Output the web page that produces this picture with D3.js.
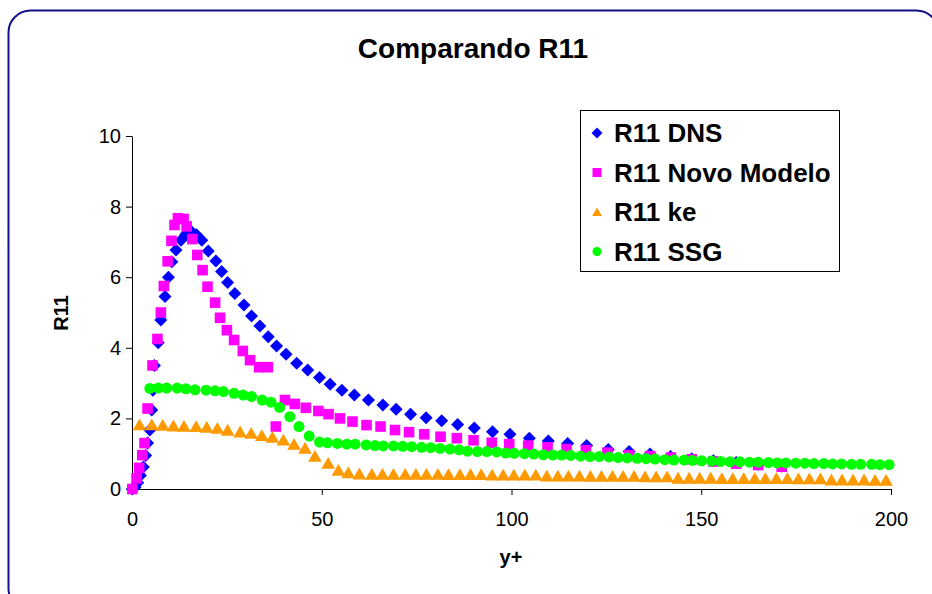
<!DOCTYPE html>
<html>
<head>
<meta charset="utf-8">
<script src="https://cdn.jsdelivr.net/npm/d3@7"></script>
<style>
  html, body { margin: 0; padding: 0; background: #fff; }
  svg { display: block; }
  text { font-family: "Liberation Sans", Arial, sans-serif; }
</style>
</head>
<body>
<svg id="chart" width="932" height="594"></svg>
<script>
// R11 profiles against y+
const seriesNames = ["R11 DNS", "R11 Novo Modelo", "R11 ke", "R11 SSG"];

const yPlusDNS = [0.1, 0.8, 1.5, 2.2, 3.0, 3.6, 4.1, 4.7, 5.2, 5.5, 5.9, 6.9, 7.6, 8.7, 9.6, 10.5, 11.6, 12.9, 14.2, 15.7,
  17.0, 18.4, 20.1, 22.1, 23.6, 25.2, 27.1, 29.5, 31.5, 33.7, 35.9, 38.1, 40.6, 43.4, 46.3, 49.4, 52.2, 55.3, 58.6, 62.3,
  66.1, 69.6, 73.4, 77.5, 81.6, 85.8, 90.2, 95.0, 99.6, 104.7, 109.7, 114.8, 119.8, 125.5, 131.0, 136.5, 141.9, 147.5, 153.2, 159.2,
  165.0, 171.2];
const r11DNS = [0.00, 0.05, 0.18, 0.38, 0.62, 0.95, 1.30, 1.67, 2.24, 2.80, 3.50, 4.14, 4.79, 5.45, 6.00, 6.44, 6.77, 7.05, 7.22, 7.29,
  7.20, 7.05, 6.74, 6.46, 6.16, 5.85, 5.54, 5.21, 4.90, 4.62, 4.31, 4.05, 3.82, 3.56, 3.37, 3.16, 2.97, 2.80, 2.66, 2.52,
  2.38, 2.26, 2.12, 2.02, 1.93, 1.83, 1.73, 1.62, 1.55, 1.44, 1.36, 1.29, 1.23, 1.12, 1.06, 0.99, 0.92, 0.86, 0.80, 0.75,
  0.70, 0.65];

const yPlusNovo = [0.1, 1.2, 1.9, 2.7, 3.3, 4.1, 5.4, 6.7, 7.6, 8.4, 9.4, 10.4, 11.2, 12.1, 13.6, 14.4, 15.9, 17.2, 18.6, 19.9,
  21.9, 23.2, 25.0, 26.9, 29.2, 31.1, 33.5, 35.8, 37.9, 40.3, 42.9, 45.8, 49.1, 51.8, 54.8, 58.1, 61.8, 65.5, 69.3, 73.0,
  77.0, 81.3, 85.6, 90.0, 94.8, 99.4, 104.4, 109.5, 114.5, 119.6, 125.3, 131.0, 136.5, 142.0, 147.5, 153.2, 159.2, 165.0, 171.2];
const r11Novo = [0.00, 0.30, 0.60, 0.96, 1.30, 2.28, 3.50, 4.25, 5.00, 5.75, 6.45, 7.03, 7.48, 7.67, 7.65, 7.44, 7.08, 6.63, 6.20, 5.73,
  5.28, 4.85, 4.50, 4.22, 3.91, 3.65, 3.45, 3.45, 1.77, 2.52, 2.41, 2.30, 2.21, 2.12, 2.00, 1.91, 1.81, 1.77, 1.67, 1.61,
  1.55, 1.48, 1.44, 1.38, 1.31, 1.27, 1.23, 1.18, 1.13, 1.10, 1.03, 0.96, 0.93, 0.89, 0.84, 0.78, 0.72, 0.68, 0.63];

const yPlusKe = [2.0, 5.2, 8.1, 10.9, 13.7, 16.9, 19.7, 22.5, 25.2, 28.5, 31.4, 34.2, 37.0, 39.9, 42.7, 45.6, 48.2, 51.7, 54.4, 57.0,
  59.9, 63.2, 66.0, 68.9, 72.0, 74.8, 77.6, 80.6, 83.4, 86.4, 89.2, 92.0, 94.9, 97.8, 100.6, 103.5, 106.4, 109.3, 112.2, 115.0,
  117.9, 120.8, 123.7, 126.6, 129.4, 132.3, 135.2, 138.1, 141.0, 143.9, 146.8, 149.6, 152.5, 155.4, 158.3, 161.2, 164.1, 166.9, 169.8, 172.7,
  175.6, 178.5, 181.4, 184.3, 187.1, 190.0, 192.9, 195.8, 198.7];
const r11Ke = [1.82, 1.82, 1.81, 1.79, 1.78, 1.77, 1.75, 1.72, 1.67, 1.62, 1.58, 1.52, 1.47, 1.39, 1.27, 1.16, 0.93, 0.73, 0.53, 0.46,
  0.43, 0.42, 0.42, 0.42, 0.42, 0.42, 0.42, 0.42, 0.41, 0.41, 0.41, 0.41, 0.40, 0.40, 0.40, 0.40, 0.40, 0.37, 0.37, 0.37,
  0.37, 0.36, 0.36, 0.36, 0.36, 0.36, 0.35, 0.35, 0.35, 0.31, 0.31, 0.31, 0.31, 0.30, 0.30, 0.30, 0.30, 0.30, 0.30, 0.30,
  0.29, 0.29, 0.29, 0.26, 0.26, 0.26, 0.26, 0.25, 0.25];

const yPlusSSG = [4.7, 6.9, 9.1, 11.9, 14.2, 16.6, 19.5, 21.9, 24.1, 26.9, 29.3, 31.5, 34.3, 36.6, 38.9, 41.6, 44.0, 46.7, 49.4, 51.5,
  54.1, 56.6, 58.8, 61.7, 64.0, 66.2, 68.9, 71.3, 73.7, 76.3, 78.7, 81.2, 83.8, 86.2, 88.4, 91.0, 93.5, 96.1, 98.5, 100.7,
  103.4, 105.9, 108.4, 110.9, 113.2, 115.6, 118.2, 120.7, 123.1, 125.7, 128.1, 130.5, 133.1, 135.5, 137.8, 140.4, 142.8, 145.5, 147.7, 150.1,
  152.7, 155.1, 157.6, 160.2, 162.7, 165.0, 167.7, 170.0, 172.3, 174.9, 177.3, 179.7, 182.3, 184.6, 187.0, 189.6, 192.0, 194.9, 197.1, 199.5];
const r11SSG = [2.85, 2.86, 2.86, 2.86, 2.84, 2.81, 2.80, 2.78, 2.76, 2.71, 2.66, 2.62, 2.52, 2.46, 2.31, 2.05, 1.77, 1.50, 1.33, 1.31,
  1.29, 1.27, 1.27, 1.25, 1.23, 1.22, 1.22, 1.21, 1.20, 1.18, 1.17, 1.15, 1.13, 1.11, 1.07, 1.06, 1.06, 1.05, 1.02, 1.01,
  1.00, 0.99, 0.97, 0.96, 0.96, 0.95, 0.93, 0.92, 0.92, 0.91, 0.89, 0.88, 0.87, 0.86, 0.85, 0.83, 0.82, 0.82, 0.81, 0.80,
  0.79, 0.78, 0.77, 0.77, 0.76, 0.76, 0.75, 0.74, 0.74, 0.73, 0.73, 0.72, 0.72, 0.71, 0.71, 0.70, 0.70, 0.70, 0.69, 0.69];

const xTicks = [0, 50, 100, 150, 200];
const yTicks = [0, 2, 4, 6, 8, 10];

const svg = d3.select("#chart");

// Outer chart frame with rounded corners
svg.append("rect")
  .attr("x", 8.5).attr("y", 10.5)
  .attr("width", 930).attr("height", 600)
  .attr("rx", 22).attr("ry", 22)
  .attr("fill", "#fff")
  .attr("stroke", "#10108a")
  .attr("stroke-width", 2);

const x = d3.scaleLinear().domain([0, 200]).range([132, 891]);
const y = d3.scaleLinear().domain([0, 10]).range([489, 136]);

// Title
svg.append("text")
  .attr("x", 473).attr("y", 58)
  .attr("text-anchor", "middle")
  .attr("font-size", 28).attr("font-weight", "bold")
  .text("Comparando R11");

// Axes
const xAxis = svg.append("g")
  .attr("transform", `translate(0,${y(0)})`)
  .call(d3.axisBottom(x).tickValues(xTicks).tickSize(6).tickSizeOuter(0).tickPadding(17));
const yAxis = svg.append("g")
  .attr("transform", `translate(${x(0)},0)`)
  .call(d3.axisLeft(y).tickValues(yTicks).tickSize(6).tickSizeOuter(0).tickPadding(5));

[xAxis, yAxis].forEach(g => {
  g.select(".domain").attr("stroke", "#000").attr("stroke-width", 1);
  g.selectAll(".tick line").attr("stroke", "#000");
  g.selectAll(".tick text")
    .attr("font-size", 20)
    .attr("font-family", "'Liberation Sans', Arial, sans-serif")
    .attr("fill", "#000");
});

// Axis titles
svg.append("text")
  .attr("x", 511).attr("y", 564)
  .attr("text-anchor", "middle")
  .attr("font-size", 20).attr("font-weight", "bold")
  .text("y+");
svg.append("text")
  .attr("transform", "translate(68,313) rotate(-90)")
  .attr("text-anchor", "middle")
  .attr("font-size", 20).attr("font-weight", "bold")
  .text("R11");

// Marker shapes
const shapes = {
  diamond: s => `M0,${-s}L${s},0L0,${s}L${-s},0Z`,
  square: s => `M${-s},${-s}H${s}V${s}H${-s}Z`,
  triangle: s => `M0,${-s}L${s * 1.1},${s * 0.9}L${-s * 1.1},${s * 0.9}Z`,
  circle: s => `M${s},0A${s},${s} 0 1,1 ${-s},0A${s},${s} 0 1,1 ${s},0Z`
};

const series = [
  { name: seriesNames[0], xs: yPlusDNS, ys: r11DNS, color: "#0000ff", shape: "diamond", size: 6.5 },
  { name: seriesNames[1], xs: yPlusNovo, ys: r11Novo, color: "#ff00ff", shape: "square", size: 5.3 },
  { name: seriesNames[2], xs: yPlusKe, ys: r11Ke, color: "#ff9900", shape: "triangle", size: 6.2 },
  { name: seriesNames[3], xs: yPlusSSG, ys: r11SSG, color: "#00ff00", shape: "circle", size: 5.5 }
];

series.forEach(s => {
  const pts = s.xs.map((v, i) => [v, s.ys[i]]);
  svg.append("g")
    .selectAll("path")
    .data(pts)
    .join("path")
    .attr("transform", d => `translate(${x(d[0])},${y(d[1])})`)
    .attr("d", shapes[s.shape](s.size))
    .attr("fill", s.color);
});

// Legend
const legend = svg.append("g");
legend.append("rect")
  .attr("x", 580.5).attr("y", 110.5)
  .attr("width", 259).attr("height", 161)
  .attr("fill", "#fff")
  .attr("stroke", "#000").attr("stroke-width", 1);

series.forEach((s, i) => {
  const cy = 133 + i * 39.5;
  legend.append("path")
    .attr("transform", `translate(597,${cy})`)
    .attr("d", shapes[s.shape](s.shape === "diamond" ? 5.5 : 4.5))
    .attr("fill", s.color);
  legend.append("text")
    .attr("x", 614).attr("y", cy + 9)
    .attr("font-size", 26).attr("font-weight", "bold")
    .text(s.name);
});
</script>
</body>
</html>
